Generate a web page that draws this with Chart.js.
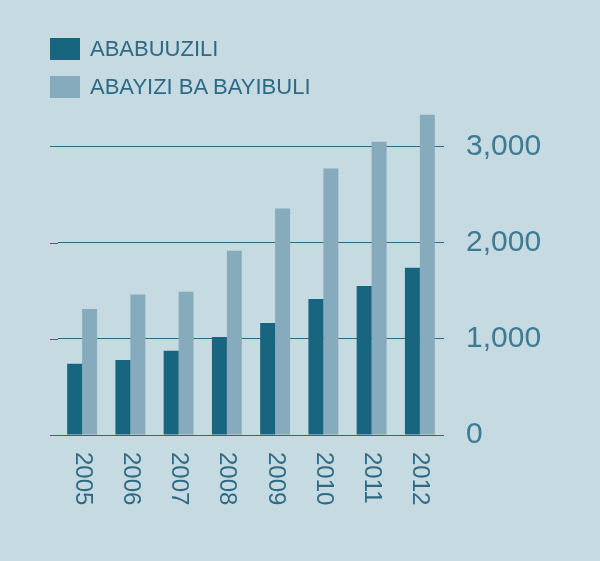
<!DOCTYPE html>
<html><head><meta charset="utf-8">
<script src="https://cdn.jsdelivr.net/npm/chart.js@4/dist/chart.umd.min.js"></script>
<style>
html,body{margin:0;padding:0;background:#c6dae2;}
#wrap{position:relative;width:600px;height:561px;}
#legend{position:absolute;left:50px;top:30px;font-family:"Liberation Sans",Arial,sans-serif;font-size:22px;color:#2f6a85;}
.it{display:flex;align-items:center;height:38px;}
.sw{width:30px;height:22px;margin-right:10px;}
#c{position:absolute;left:0;top:0;}
</style></head><body>
<div id="wrap">
<canvas id="c" width="600" height="561"></canvas>
<div id="legend">
<div class="it"><div class="sw" style="background:#17657f"></div>ABABUUZILI</div>
<div class="it"><div class="sw" style="background:#86abbd"></div>ABAYIZI BA BAYIBULI</div>
</div>
</div>
<script>
const years=["2005","2006","2007","2008","2009","2010","2011","2012"];
const ababuuzili=[740,780,875,1020,1165,1415,1550,1740];
const abayizi=[1310,1460,1490,1915,2355,2770,3050,3330];
const yTicks=[0,1000,2000,3000];
const font='"Liberation Sans",Arial,sans-serif';
const yearLabels={id:'yl',afterDraw(ch){const x=ch.scales.x,ctx=ch.ctx;ctx.save();ctx.fillStyle='#2f6a85';ctx.font='24px '+font;ctx.textBaseline='middle';ctx.textAlign='left';
years.forEach((y,i)=>{const px=x.getPixelForValue(i);ctx.save();ctx.translate(px,452);ctx.rotate(Math.PI/2);ctx.fillText(y,0,0);ctx.restore();});ctx.restore();}};
new Chart(document.getElementById('c'),{type:'bar',
data:{labels:years,datasets:[{data:ababuuzili,backgroundColor:'#17657f'},{data:abayizi,backgroundColor:'#86abbd'}]},
options:{responsive:false,animation:false,layout:{padding:{left:58,top:108,bottom:0,right:0}},
plugins:{legend:{display:false},tooltip:{enabled:false}},
datasets:{bar:{categoryPercentage:0.62,barPercentage:1}},
scales:{x:{ticks:{display:false},grid:{display:false},border:{display:false},afterFit(s){s.height=126;}},
y:{position:'right',min:0,max:3400,afterBuildTicks(s){s.ticks=yTicks.map(v=>({value:v}));},
afterFit(s){s.width=156;},border:{display:false},
grid:{color:'#2f6a85',lineWidth:1,drawTicks:false},
ticks:{color:'#3d7a96',font:{family:font,size:30},padding:22,callback:v=>v.toLocaleString('en-US')}}}},
plugins:[yearLabels,{id:'ext',beforeDraw(ch){const y=ch.scales.y,ctx=ch.ctx;ctx.save();ctx.strokeStyle='#2f6a85';ctx.lineWidth=1;yTicks.forEach(v=>{const p=Math.round(y.getPixelForValue(v))+0.5;ctx.beginPath();ctx.moveTo(50,p);ctx.lineTo(ch.chartArea.left,p);ctx.stroke();});ctx.restore();}}]
});
</script></body></html>
